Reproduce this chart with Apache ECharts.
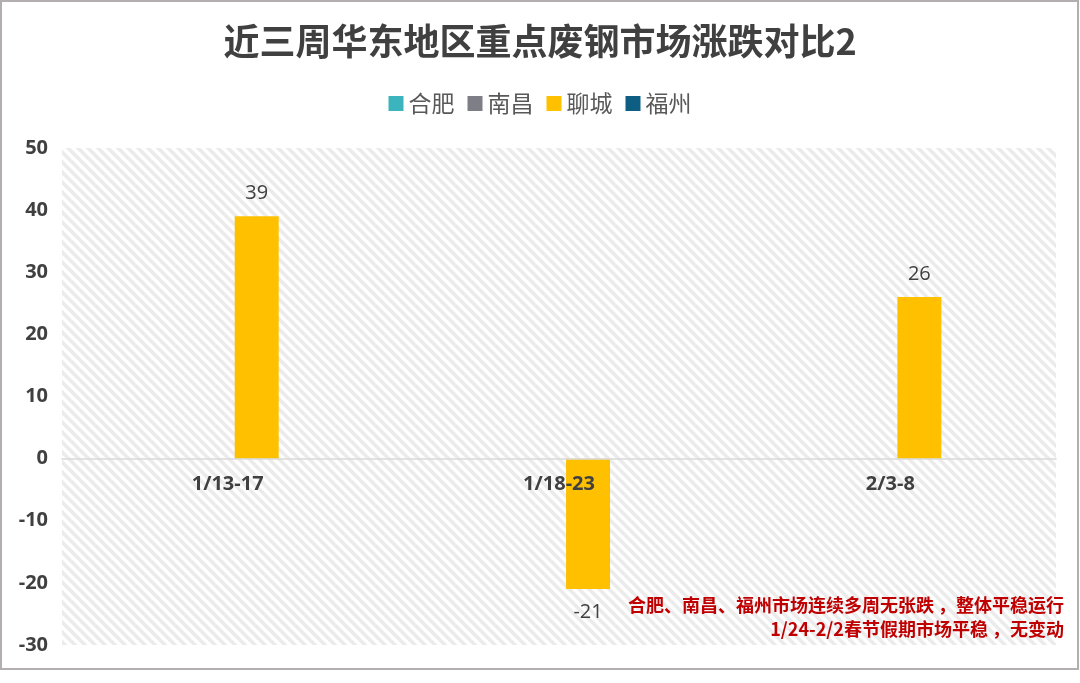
<!DOCTYPE html>
<html>
<head>
<meta charset="utf-8">
<script src="https://cdn.jsdelivr.net/npm/echarts@6/dist/echarts.min.js"></script>
<style>
  html, body { margin: 0; padding: 0; background: #fff; }
  #frame { position: absolute; left: 0; top: 0; width: 1075px; height: 666px; border: 2px solid #b3afb1; }
  #mainChart { position: absolute; left: 0; top: 0; width: 1080px; height: 683px; }
</style>
</head>
<body>
<div id="frame"></div>
<div id="mainChart"></div>
<script>
var categories = ['1/13-17', '1/18-23', '2/3-8'];
var seriesNames = ['合肥', '南昌', '聊城', '福州'];
var seriesColors = ['#3bb4bd', '#7e7e86', '#ffc000', '#0d5e82'];
var hefei = [0, 0, 0];
var nanchang = [0, 0, 0];
var liaocheng = [39, -21, 26];
var fuzhou = [0, 0, 0];
var yTicks = { min: -30, max: 50, interval: 10 };
var noteLines = ['合肥、南昌、福州市场连续多周无张跌 ，整体平稳运行', '1/24-2/2春节假期市场平稳 ，无变动'];

var gridTop = 148, gridBottom = 38, chartHeight = 683;

// diagonal stripes for the plot background
function stripePattern()
{
    var n = 10;
    var c = document.createElement('canvas');
    c.width = n;
    c.height = n;
    var ctx = c.getContext('2d');
    ctx.fillStyle = '#ffffff';
    ctx.fillRect(0, 0, n, n);
    ctx.strokeStyle = '#ebebeb';
    ctx.lineWidth = 3.6;
    ctx.beginPath();
    ctx.moveTo(-n, 0); ctx.lineTo(n, 2 * n);
    ctx.moveTo(0, 0); ctx.lineTo(n, n);
    ctx.moveTo(0, -n); ctx.lineTo(2 * n, n);
    ctx.stroke();
    return c;
}

var myChart = echarts.init(document.getElementById('mainChart'), null, { renderer: 'canvas' });

// put the category axis on the zero line
var plotHeight = chartHeight - gridTop - gridBottom;
var zeroOffset = -(0 - yTicks.min) / (yTicks.max - yTicks.min) * plotHeight;

var allData = [hefei, nanchang, liaocheng, fuzhou];
var series = seriesNames.map((name, i) => ({
    name: name,
    type: 'bar',
    data: allData[i],
    barWidth: 44,
    barGap: '32%',
    itemStyle: { color: seriesColors[i] },
    label: {
        show: name === '聊城',
        position: 'outside',
        distance: 13,
        color: '#404040',
        fontSize: 20,
        fontFamily: 'Open Sans, Noto Sans, sans-serif'
    }
}));

var noteText = noteLines.map((line, i) => ({
    type: 'text',
    right: 16,
    top: 596 + i * 24,
    z: 10,
    style: {
        text: line,
        align: 'right',
        fill: '#c00000',
        font: 'bold 18px "Noto Sans CJK SC", sans-serif'
    }
}));

var option = {
    backgroundColor: 'transparent',
    title: {
        text: '近三周华东地区重点废钢市场涨跌对比2',
        left: 'center',
        top: 18,
        textStyle: {
            fontSize: 36,
            fontWeight: 'bold',
            color: '#404040',
            fontFamily: 'Noto Sans CJK SC, sans-serif'
        }
    },
    legend: {
        top: 87,
        left: 'center',
        icon: 'rect',
        itemWidth: 15,
        itemHeight: 15,
        itemGap: 13,
        textStyle: { fontSize: 23, color: '#595959', fontFamily: 'Noto Sans CJK SC, sans-serif' },
        data: seriesNames
    },
    grid: {
        left: 62,
        right: 24,
        top: gridTop,
        bottom: gridBottom,
        show: true,
        borderWidth: 0,
        backgroundColor: { image: stripePattern(), repeat: 'repeat' }
    },
    xAxis: {
        type: 'category',
        data: categories,
        z: 5,
        offset: zeroOffset,
        axisTick: { show: false },
        axisLine: { onZero: false, lineStyle: { color: '#d9d9d9', width: 1.5 } },
        axisLabel: {
            margin: 16,
            fontSize: 20,
            fontWeight: 'bold',
            color: '#404040',
            fontFamily: 'Open Sans, Noto Sans, sans-serif'
        }
    },
    yAxis: {
        type: 'value',
        min: yTicks.min,
        max: yTicks.max,
        interval: yTicks.interval,
        splitLine: { show: false },
        axisLine: { show: false },
        axisLabel: {
            margin: 14,
            fontSize: 20,
            fontWeight: 'bold',
            color: '#404040',
            fontFamily: 'Open Sans, Noto Sans, sans-serif'
        }
    },
    graphic: noteText,
    series: series
};

myChart.setOption(option);
window.addEventListener('resize', myChart.resize);
</script>
</body>
</html>
